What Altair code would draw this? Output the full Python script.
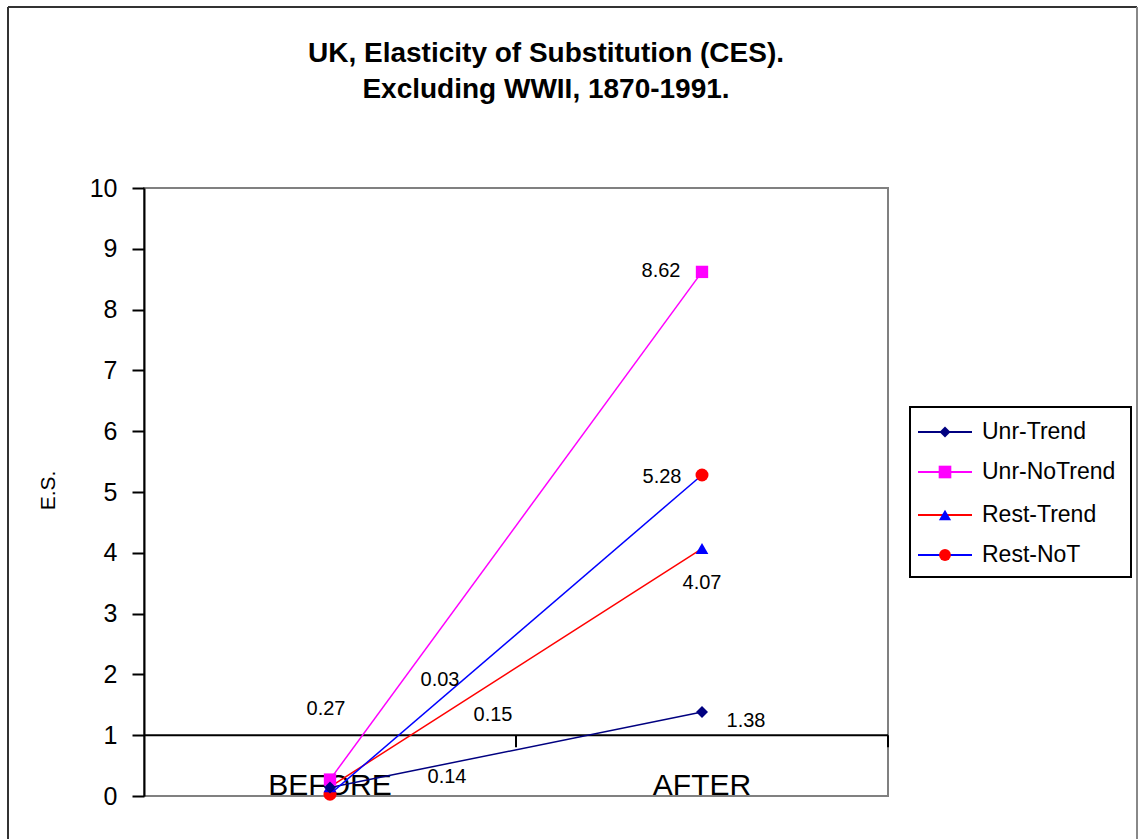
import altair as alt
import pandas as pd

# ---- data -------------------------------------------------------------
categories = ["BEFORE", "AFTER"]
series_names = ["Unr-Trend", "Unr-NoTrend", "Rest-Trend", "Rest-NoT"]
unr_trend = [0.14, 1.38]
unr_notrend = [0.27, 8.62]
rest_trend = [0.15, 4.07]
rest_not = [0.03, 5.28]
y_ticks = list(range(0, 11))

title_lines = ["UK, Elasticity of Substitution (CES).", "Excluding WWII, 1870-1991."]
y_title = "E.S."

# ---- styling ----------------------------------------------------------
FONT = "Liberation Sans"
W, H = 744, 608
line_colors = ["#000080", "#FF00FF", "#FF0000", "#0000FF"]
marker_colors = ["#000080", "#FF00FF", "#0000FF", "#FF0000"]
marker_shapes = ["diamond", "square", "triangle-up", "circle"]
marker_sizes = [144, 169, 140, 150]
legend_sizes = [120, 160, 150, 140]

# hand-placed data label offsets (pixels from the marker)
label_offsets = {
    ("Unr-Trend", "BEFORE"): (117, -10),
    ("Unr-NoTrend", "BEFORE"): (-4, -71),
    ("Rest-Trend", "BEFORE"): (163, -72),
    ("Rest-NoT", "BEFORE"): (110, -114),
    ("Unr-Trend", "AFTER"): (44, 9),
    ("Unr-NoTrend", "AFTER"): (-41, -1),
    ("Rest-Trend", "AFTER"): (0, 34),
    ("Rest-NoT", "AFTER"): (-40, 2),
}

series_values = [unr_trend, unr_notrend, rest_trend, rest_not]
rows = []
for name, vals in zip(series_names, series_values):
    for cat, v in zip(categories, vals):
        rows.append({"series": name, "category": cat, "value": v})
df = pd.DataFrame(rows)
cat_df = pd.DataFrame({"category": categories})
one = pd.DataFrame({"k": [0]})

X = alt.X("category:N",
          scale=alt.Scale(type="point", domain=categories, padding=0.5),
          axis=None)
Y = alt.Y("value:Q",
          scale=alt.Scale(domain=[0, 10], nice=False, zero=True),
          axis=alt.Axis(values=y_ticks, format="d", grid=False,
                        domainColor="black", domainWidth=2,
                        tickColor="black", tickWidth=2, tickSize=12,
                        labelFontSize=25, labelFont=FONT,
                        labelColor="black", labelPadding=15,
                        title=y_title, titleFont=FONT, titleFontSize=21,
                        titleFontWeight="normal", titleColor="black",
                        titleAngle=270, titleX=-96, titleY=302,
                        titleAlign="center", titleBaseline="middle"))

# ---- plot layers ------------------------------------------------------
layers = []

# horizontal category axis crossing at 1
layers.append(alt.Chart(one).mark_rule(color="black", strokeWidth=2)
              .encode(y=alt.datum(1)))
for tx in (W / 2, W):
    layers.append(alt.Chart(one).mark_rule(color="black", strokeWidth=2)
                  .encode(x=alt.value(tx), y=alt.datum(1), y2=alt.datum(0.8)))

# category names
layers.append(alt.Chart(cat_df).mark_text(font=FONT, fontSize=30,
                                          baseline="alphabetic", dy=-1,
                                          color="black")
              .encode(x=X, y=alt.value(H), text="category:N"))

# series lines
layers.append(alt.Chart(df).mark_line(strokeWidth=1.5).encode(
    x=X, y=Y,
    stroke=alt.Stroke("series:N", scale=alt.Scale(domain=series_names,
                                                  range=line_colors),
                      legend=None),
    detail="series:N"))

# markers
layers.append(alt.Chart(df).mark_point(filled=True, opacity=1,
                                       strokeWidth=0).encode(
    x=X, y=Y,
    fill=alt.Fill("series:N", scale=alt.Scale(domain=series_names,
                                              range=marker_colors),
                  legend=None),
    shape=alt.Shape("series:N", scale=alt.Scale(domain=series_names,
                                                range=marker_shapes),
                    legend=None),
    size=alt.Size("series:N", scale=alt.Scale(domain=series_names,
                                              range=marker_sizes),
                  legend=None),
    order=alt.Order("series:N")))

# data labels
for (name, cat), (dx, dy) in label_offsets.items():
    layers.append(
        alt.Chart(df)
        .transform_filter((alt.datum.series == name) & (alt.datum.category == cat))
        .mark_text(font=FONT, fontSize=20, color="black", dx=dx, dy=dy,
                   align="center", baseline="middle")
        .encode(x=X, y=Y, text=alt.Text("value:Q", format=".2f")))

# title
for i, line in enumerate(title_lines):
    layers.append(alt.Chart(one).mark_text(font=FONT, fontSize=28,
                                           fontWeight="bold", color="black",
                                           align="center",
                                           baseline="alphabetic")
                  .encode(x=alt.value(402), y=alt.value(-126 + 36 * i),
                          text=alt.value(line)))

# legend box
layers.append(alt.Chart(one).mark_rect(fill="white", stroke="black",
                                       strokeWidth=2)
              .encode(x=alt.value(766), x2=alt.value(987),
                      y=alt.value(219), y2=alt.value(389)))
legend_y = [244, 284, 327, 367]
for name, lc, mc, shp, sz, ly in zip(series_names, line_colors, marker_colors,
                                     marker_shapes, legend_sizes, legend_y):
    layers.append(alt.Chart(one).mark_rule(color=lc, strokeWidth=2)
                  .encode(x=alt.value(774), x2=alt.value(828),
                          y=alt.value(ly)))
    layers.append(alt.Chart(one).mark_point(filled=True, opacity=1,
                                            strokeWidth=0, fill=mc,
                                            shape=shp, size=sz)
                  .encode(x=alt.value(801), y=alt.value(ly)))
    layers.append(alt.Chart(one).mark_text(font=FONT, fontSize=23,
                                           color="black", align="left",
                                           baseline="middle")
                  .encode(x=alt.value(838), y=alt.value(ly),
                          text=alt.value(name)))

# outer chart frame
layers.append(alt.Chart(one).mark_rule(color="#333333", strokeWidth=2)
              .encode(x=alt.value(-136), x2=alt.value(993), y=alt.value(-181)))
layers.append(alt.Chart(one).mark_rule(color="#333333", strokeWidth=2)
              .encode(x=alt.value(-136), y=alt.value(-181), y2=alt.value(700)))
layers.append(alt.Chart(one).mark_rule(color="#888888", strokeWidth=2)
              .encode(x=alt.value(993), y=alt.value(-181), y2=alt.value(700)))

chart = (
    alt.layer(*layers)
    .properties(width=W, height=H, autosize="none",
                padding={"left": 144, "top": 188, "right": 250, "bottom": 43},
                background="white")
    .configure_view(stroke="#808080", strokeWidth=2)
)

chart.save("out.html", embed_options={"renderer": "svg", "actions": False})
